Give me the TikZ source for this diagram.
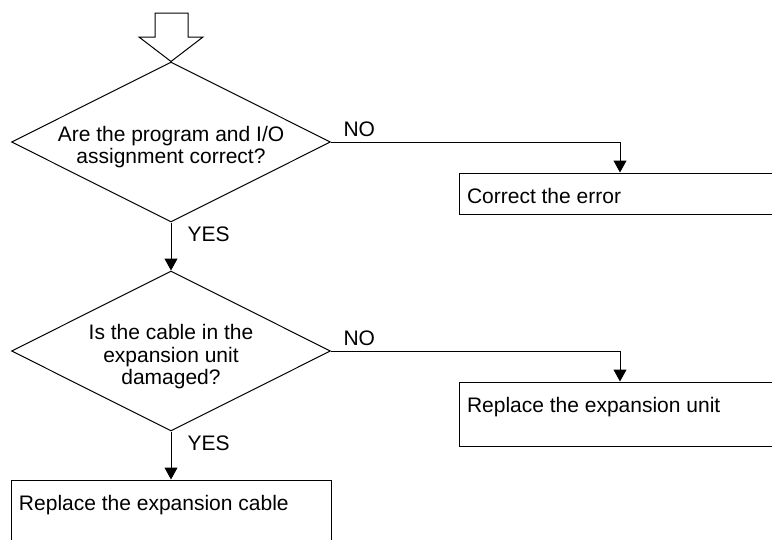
\documentclass[tikz,border=0pt]{standalone}
\usepackage{fontspec}
\setmainfont{Liberation Sans}
\usetikzlibrary{arrows.meta, positioning, shapes.geometric}

\begin{document}
\begin{tikzpicture}[x=1pt, y=-1pt, line width=1pt, node distance=48pt,
    every node/.style={font=\fontsize{21}{22.5}\selectfont, inner sep=2pt},
    decision/.style={draw, diamond, minimum width=319pt, minimum height=160pt, inner sep=0pt},
    box/.style={draw, rectangle, inner sep=0pt},
    boxtext/.style={anchor=base west, inner sep=0pt, xshift=8pt, yshift=-31pt},
    flow/.style={-{Triangle[width=13pt, length=12pt]}}]
    \useasboundingbox (0,0) rectangle (772,539);
    \clip (0,0) rectangle (772,539);

    % Questions
    \node[decision] (prog) at (171,142) {};
    \node[align=center, yshift=-5pt] (progtext) at (prog) {Are the program and I/O\\assignment correct?};
    \node[decision, below=of prog] (cable) {};
    \node[align=center, yshift=-6pt] (cabletext) at (cable) {Is the cable in the\\expansion unit\\damaged?};

    % Entry arrow
    \draw (155,13) -- (188,13) -- (188,37) -- (203,37) -- (prog.north) -- (139,37) -- (155,37) -- cycle;

    % Actions
    \node[box, minimum width=322pt, minimum height=41pt] (fixerr) at (620,193.5) {};
    \node[boxtext] (fixerrtext) at (fixerr.north west) {Correct the error};
    \node[box, minimum width=322pt, minimum height=64pt] (unit) at (620,414) {};
    \node[boxtext] (unittext) at (unit.north west) {Replace the expansion unit};
    \node[box, minimum width=320pt, minimum height=100pt, below=of cable] (cbl) {};
    \node[boxtext] (cbltext) at (cbl.north west) {Replace the expansion cable};

    \draw[flow] (prog.south) -- node[pos=0.25, right=14pt] {YES} (cable.north);
    \draw[flow] (prog.east) -| node[pos=0, anchor=south west, xshift=10pt, yshift=3pt] {NO} (fixerr.north);
    \draw[flow] (cable.south) -- node[pos=0.25, right=14pt] {YES} (cbl.north);
    \draw[flow] (cable.east) -| node[pos=0, anchor=south west, xshift=10pt, yshift=3pt] {NO} (unit.north);
\end{tikzpicture}
\end{document}
